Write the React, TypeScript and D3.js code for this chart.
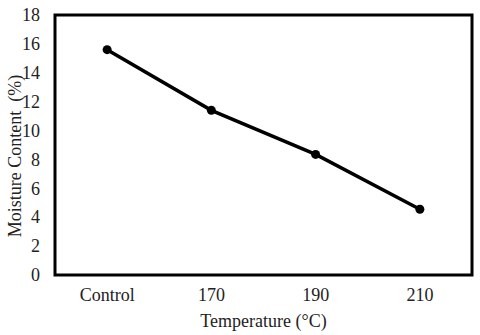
import React, { useEffect, useRef } from "react";
import * as d3 from "d3";

const categories = ["Control", "170", "190", "210"];
const moisture = [15.6, 11.4, 8.35, 4.55];
const yTicks = [0, 2, 4, 6, 8, 10, 12, 14, 16, 18];

const App = () => {
  const svgRef = useRef<SVGSVGElement>(null);

  useEffect(() => {
    const width = 480;
    const height = 335;
    const marginTop = 15;
    const marginRight = 8;
    const marginBottom = 60;
    const marginLeft = 55;
    const font = "Liberation Serif, DejaVu Serif, serif";

    const x = d3
      .scaleBand()
      .domain(categories)
      .range([marginLeft, width - marginRight]);
    const y = d3
      .scaleLinear()
      .domain([0, 18])
      .range([height - marginBottom, marginTop]);

    const svg = d3.select(svgRef.current);
    svg.selectAll("*").remove();
    svg.attr("width", width).attr("height", height).style("background", "white");

    // y axis labels, no tick marks
    svg
      .append("g")
      .attr("transform", `translate(${marginLeft},0)`)
      .call(d3.axisLeft(y).tickValues(yTicks).tickSize(0).tickPadding(15))
      .attr("font-family", font)
      .attr("font-size", 18)
      .call((g) => g.select(".domain").remove())
      .call((g) => g.selectAll("text").attr("fill", "#222"));

    // x axis labels
    svg
      .append("g")
      .attr("transform", `translate(0,${height - marginBottom})`)
      .call(d3.axisBottom(x).tickSize(0).tickPadding(13))
      .attr("font-family", font)
      .attr("font-size", 18)
      .call((g) => g.select(".domain").remove())
      .call((g) => g.selectAll("text").attr("fill", "#222"));

    // plot frame
    svg
      .append("rect")
      .attr("x", marginLeft)
      .attr("y", marginTop)
      .attr("width", width - marginLeft - marginRight)
      .attr("height", height - marginTop - marginBottom)
      .attr("fill", "none")
      .attr("stroke", "black")
      .attr("stroke-width", 3);

    const line = d3
      .line<number>()
      .x((_, i) => x(categories[i])! + x.bandwidth() / 2)
      .y((d) => y(d));

    svg
      .append("path")
      .attr("fill", "none")
      .attr("stroke", "black")
      .attr("stroke-width", 3.5)
      .attr("d", line(moisture));

    svg
      .append("g")
      .selectAll("circle")
      .data(moisture)
      .join("circle")
      .attr("cx", (_, i) => x(categories[i])! + x.bandwidth() / 2)
      .attr("cy", (d) => y(d))
      .attr("r", 4.5)
      .attr("fill", "black");

    // axis titles
    svg
      .append("text")
      .attr("x", (marginLeft + width - marginRight) / 2)
      .attr("y", height - 8)
      .attr("text-anchor", "middle")
      .attr("font-family", font)
      .attr("font-size", 18)
      .attr("fill", "#222")
      .text("Temperature (°C)");

    svg
      .append("text")
      .attr("transform", `translate(21,156) rotate(-90)`)
      .attr("text-anchor", "middle")
      .attr("font-family", font)
      .attr("font-size", 18)
      .attr("fill", "#222")
      .style("white-space", "pre")
      .text("Moisture Content  (%)");
  }, []);

  return (
    <div style={{ position: "absolute", left: 0, top: 0 }}>
      <svg ref={svgRef} style={{ display: "block" }} />
    </div>
  );
};

export default App;
